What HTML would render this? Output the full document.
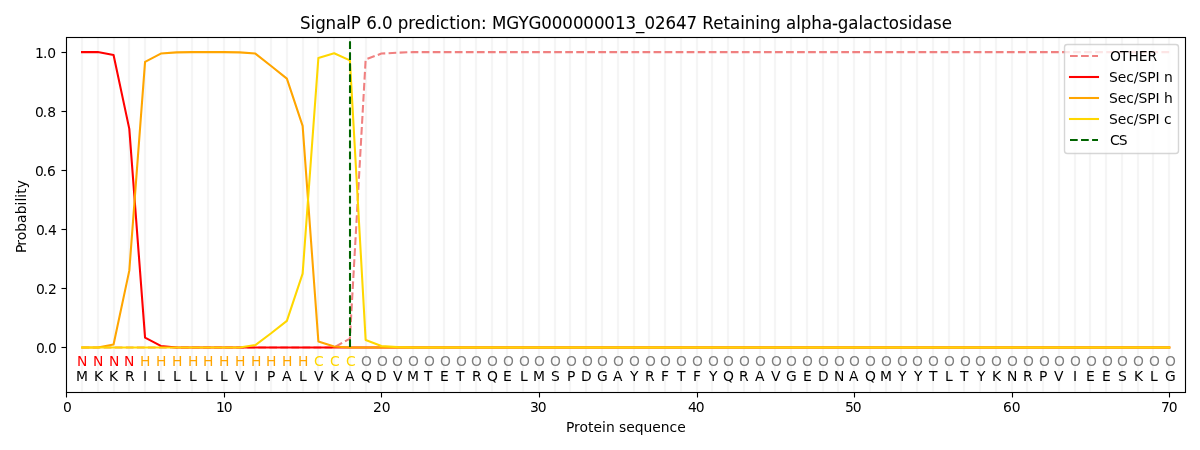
<!DOCTYPE html>
<html lang="en"><head><meta charset="utf-8"><title>SignalP 6.0 prediction</title>
<style>
html,body{margin:0;padding:0;background:#fff;}
body{width:1200px;height:450px;overflow:hidden;font-family:"DejaVu Sans","Liberation Sans",sans-serif;}
svg{display:block;}
</style></head><body>
<svg width="1200" height="450" viewBox="0 0 1200 450">
<defs><clipPath id="axclip"><rect x="66.278" y="37.333" width="1118.722" height="354.389"/></clipPath></defs>
<rect x="0" y="0" width="1200" height="450" fill="#ffffff"/>
<path d="M66.5 392.0V397.5M224.5 392.0V397.5M381.5 392.0V397.5M539.5 392.0V397.5M697.5 392.0V397.5M854.5 392.0V397.5M1012.5 392.0V397.5M1169.5 392.0V397.5M67.0 347.5H61.5M67.0 288.5H61.5M67.0 229.5H61.5M67.0 170.5H61.5M67.0 111.5H61.5M67.0 52.5H61.5" stroke="#000" stroke-width="1.111" fill="none"/>
<g font-family="'DejaVu Sans', sans-serif" font-size="13.889px" fill="#000">
<g>
<text transform="translate(0 412.30) scale(1 1.0)" x="62.96" y="0">0</text>
<text transform="translate(0 411.92) scale(1 1.0)" x="215.96 223.84" y="0">10</text>
<text transform="translate(0 411.92) scale(1 1.0)" x="372.96 381.71" y="0">20</text>
<text transform="translate(0 411.83) scale(1 1.0)" x="530.10 537.85" y="0">30</text>
<text transform="translate(0 411.68) scale(1 1.0)" x="688.03 695.78" y="0">40</text>
<text transform="translate(0 412.31) scale(1 1.0)" x="845.04 852.79" y="0">50</text>
<text transform="translate(0 412.47) scale(1 1.0)" x="1002.93 1011.81" y="0">60</text>
<text transform="translate(0 412.48) scale(1 1.0)" x="1160.97 1168.72" y="0">70</text>
<text transform="translate(0 432.22) scale(1 1.0)" x="565.96 574.09 579.59 588.09 593.59 602.09 605.96 614.71 619.09 626.21 634.71 643.59 652.34 660.84 669.59 677.21" y="0">Protein sequence</text>
<text transform="translate(25.62 217.03) rotate(-90) scale(1 1.0)" x="-35.94 -28.81 -23.31 -14.81 -5.94 2.69 11.56 15.44 19.31 23.19 28.69" y="0">Probability</text>
</g>
<g>
<text transform="translate(0 353.39) scale(1 1.0)" x="35.90 43.65 48.02" y="0">0.0</text>
<text transform="translate(0 294.05) scale(1 1.0)" x="35.98 43.73 48.11" y="0">0.2</text>
<text transform="translate(0 234.71) scale(1 1.0)" x="35.98 43.73 48.10" y="0">0.4</text>
<text transform="translate(0 176.41) scale(1 1.0)" x="34.90 42.65 47.02" y="0">0.6</text>
<text transform="translate(0 117.02) scale(1 1.0)" x="35.04 42.79 47.16" y="0">0.8</text>
<text transform="translate(0 57.73) scale(1 1.0)" x="35.06 42.94 47.31" y="0">1.0</text>
</g>
</g>
<g clip-path="url(#axclip)">
<path d="M82 37.33V391.72M98 37.33V391.72M114 37.33V391.72M129 37.33V391.72M145 37.33V391.72M161 37.33V391.72M177 37.33V391.72M192 37.33V391.72M208 37.33V391.72M224 37.33V391.72M240 37.33V391.72M255 37.33V391.72M271 37.33V391.72M287 37.33V391.72M303 37.33V391.72M318 37.33V391.72M334 37.33V391.72M350 37.33V391.72M366 37.33V391.72M381 37.33V391.72M397 37.33V391.72M413 37.33V391.72M429 37.33V391.72M444 37.33V391.72M460 37.33V391.72M476 37.33V391.72M492 37.33V391.72M507 37.33V391.72M523 37.33V391.72M539 37.33V391.72M555 37.33V391.72M570 37.33V391.72M586 37.33V391.72M602 37.33V391.72M618 37.33V391.72M634 37.33V391.72M649 37.33V391.72M665 37.33V391.72M681 37.33V391.72M697 37.33V391.72M712 37.33V391.72M728 37.33V391.72M744 37.33V391.72M760 37.33V391.72M775 37.33V391.72M791 37.33V391.72M807 37.33V391.72M823 37.33V391.72M838 37.33V391.72M854 37.33V391.72M870 37.33V391.72M886 37.33V391.72M901 37.33V391.72M917 37.33V391.72M933 37.33V391.72M949 37.33V391.72M964 37.33V391.72M980 37.33V391.72M996 37.33V391.72M1012 37.33V391.72M1027 37.33V391.72M1043 37.33V391.72M1059 37.33V391.72M1075 37.33V391.72M1090 37.33V391.72M1106 37.33V391.72M1122 37.33V391.72M1138 37.33V391.72M1153 37.33V391.72M1169 37.33V391.72" stroke="#f5f5f5" stroke-width="2.25" fill="none"/>
<polyline points="82.03,347.42 97.79,347.42 113.55,347.42 129.30,347.42 145.06,347.42 160.82,347.42 176.57,347.42 192.33,347.42 208.09,347.42 223.84,347.42 239.60,347.42 255.36,347.42 271.11,347.42 286.87,347.42 302.63,347.42 318.38,347.42 334.14,347.42 349.90,338.56 365.65,59.48 381.41,53.58 397.17,52.69 412.92,52.10 428.68,52.10 444.44,52.10 460.19,52.10 475.95,52.10 491.71,52.10 507.46,52.10 523.22,52.10 538.98,52.10 554.73,52.10 570.49,52.10 586.25,52.10 602.00,52.10 617.76,52.10 633.52,52.10 649.27,52.10 665.03,52.10 680.79,52.10 696.54,52.10 712.30,52.10 728.06,52.10 743.81,52.10 759.57,52.10 775.33,52.10 791.08,52.10 806.84,52.10 822.60,52.10 838.35,52.10 854.11,52.10 869.87,52.10 885.62,52.10 901.38,52.10 917.14,52.10 932.89,52.10 948.65,52.10 964.41,52.10 980.16,52.10 995.92,52.10 1011.68,52.10 1027.43,52.10 1043.19,52.10 1058.95,52.10 1074.70,52.10 1090.46,52.10 1106.22,52.10 1121.97,52.10 1137.73,52.10 1153.49,52.10 1169.24,52.10" fill="none" stroke="#f08080" stroke-width="2.083" stroke-linejoin="round" stroke-dasharray="7.708 3.333" stroke-dashoffset="0.40"/>
<polyline points="82.03,52.10 97.79,52.10 113.55,55.05 129.30,128.88 145.06,337.68 160.82,345.95 176.57,347.42 192.33,347.42 208.09,347.42 223.84,347.42 239.60,347.42 255.36,347.42 271.11,347.42 286.87,347.42 302.63,347.42 318.38,347.42 334.14,347.42 349.90,347.42 365.65,347.42 381.41,347.42 397.17,347.42 412.92,347.42 428.68,347.42 444.44,347.42 460.19,347.42 475.95,347.42 491.71,347.42 507.46,347.42 523.22,347.42 538.98,347.42 554.73,347.42 570.49,347.42 586.25,347.42 602.00,347.42 617.76,347.42 633.52,347.42 649.27,347.42 665.03,347.42 680.79,347.42 696.54,347.42 712.30,347.42 728.06,347.42 743.81,347.42 759.57,347.42 775.33,347.42 791.08,347.42 806.84,347.42 822.60,347.42 838.35,347.42 854.11,347.42 869.87,347.42 885.62,347.42 901.38,347.42 917.14,347.42 932.89,347.42 948.65,347.42 964.41,347.42 980.16,347.42 995.92,347.42 1011.68,347.42 1027.43,347.42 1043.19,347.42 1058.95,347.42 1074.70,347.42 1090.46,347.42 1106.22,347.42 1121.97,347.42 1137.73,347.42 1153.49,347.42 1169.24,347.42" fill="none" stroke="#ff0000" stroke-width="2.083" stroke-linejoin="round" stroke-linecap="square"/>
<polyline points="82.03,347.42 97.79,347.42 113.55,344.47 129.30,270.64 145.06,61.85 160.82,53.58 176.57,52.39 192.33,52.10 208.09,52.10 223.84,52.10 239.60,52.39 255.36,53.58 271.11,65.98 286.87,78.68 302.63,125.93 318.38,341.52 334.14,346.54 349.90,347.42 365.65,347.42 381.41,347.42 397.17,347.42 412.92,347.42 428.68,347.42 444.44,347.42 460.19,347.42 475.95,347.42 491.71,347.42 507.46,347.42 523.22,347.42 538.98,347.42 554.73,347.42 570.49,347.42 586.25,347.42 602.00,347.42 617.76,347.42 633.52,347.42 649.27,347.42 665.03,347.42 680.79,347.42 696.54,347.42 712.30,347.42 728.06,347.42 743.81,347.42 759.57,347.42 775.33,347.42 791.08,347.42 806.84,347.42 822.60,347.42 838.35,347.42 854.11,347.42 869.87,347.42 885.62,347.42 901.38,347.42 917.14,347.42 932.89,347.42 948.65,347.42 964.41,347.42 980.16,347.42 995.92,347.42 1011.68,347.42 1027.43,347.42 1043.19,347.42 1058.95,347.42 1074.70,347.42 1090.46,347.42 1106.22,347.42 1121.97,347.42 1137.73,347.42 1153.49,347.42 1169.24,347.42" fill="none" stroke="#ffa500" stroke-width="2.083" stroke-linejoin="round" stroke-linecap="square"/>
<polyline points="82.03,347.42 97.79,347.42 113.55,347.42 129.30,347.42 145.06,347.42 160.82,347.42 176.57,347.42 192.33,347.42 208.09,347.42 223.84,347.42 239.60,347.42 255.36,345.06 271.11,333.25 286.87,320.84 302.63,273.59 318.38,58.01 334.14,53.28 349.90,60.37 365.65,340.04 381.41,345.95 397.17,347.13 412.92,347.42 428.68,347.42 444.44,347.42 460.19,347.42 475.95,347.42 491.71,347.42 507.46,347.42 523.22,347.42 538.98,347.42 554.73,347.42 570.49,347.42 586.25,347.42 602.00,347.42 617.76,347.42 633.52,347.42 649.27,347.42 665.03,347.42 680.79,347.42 696.54,347.42 712.30,347.42 728.06,347.42 743.81,347.42 759.57,347.42 775.33,347.42 791.08,347.42 806.84,347.42 822.60,347.42 838.35,347.42 854.11,347.42 869.87,347.42 885.62,347.42 901.38,347.42 917.14,347.42 932.89,347.42 948.65,347.42 964.41,347.42 980.16,347.42 995.92,347.42 1011.68,347.42 1027.43,347.42 1043.19,347.42 1058.95,347.42 1074.70,347.42 1090.46,347.42 1106.22,347.42 1121.97,347.42 1137.73,347.42 1153.49,347.42 1169.24,347.42" fill="none" stroke="#ffd700" stroke-width="2.083" stroke-linejoin="round" stroke-linecap="square"/>
<path d="M350 347V37" fill="none" stroke="#006400" stroke-width="2.083" stroke-dasharray="7.708 3.333" stroke-dashoffset="0.00"/>
</g>
<path d="M66.0 37.5H1186.0M66.0 392.5H1186.0M61.5 347.5H66.5M61.5 288.5H66.5M61.5 229.5H66.5M61.5 170.5H66.5M61.5 111.5H66.5M61.5 52.5H66.5" stroke="#000" stroke-opacity="0.055" stroke-width="3" fill="none"/>
<path d="M66.5 393.06V36.94M1185.5 393.06V36.94M65.94 392.5H1186.06M65.94 37.5H1186.06" stroke="#000" stroke-width="1.111" fill="none"/>
<g font-family="'DejaVu Sans', sans-serif" font-size="13.889px" text-anchor="middle">
<text transform="translate(0 366.08) scale(1 0.97)" x="82.31" y="0" fill="#ff0000">N</text>
<text transform="translate(0 366.08) scale(1 0.97)" x="98.31" y="0" fill="#ff0000">N</text>
<text transform="translate(0 366.05) scale(1 0.97)" x="114.10" y="0" fill="#ff0000">N</text>
<text transform="translate(0 366.07) scale(1 0.97)" x="129.12" y="0" fill="#ff0000">N</text>
<text transform="translate(0 365.56) scale(1 0.97)" x="145.27" y="0" fill="#ffa500">H</text>
<text transform="translate(0 365.56) scale(1 0.97)" x="161.26" y="0" fill="#ffa500">H</text>
<text transform="translate(0 365.56) scale(1 0.97)" x="177.13" y="0" fill="#ffa500">H</text>
<text transform="translate(0 365.56) scale(1 0.97)" x="193.15" y="0" fill="#ffa500">H</text>
<text transform="translate(0 365.60) scale(1 0.97)" x="208.26" y="0" fill="#ffa500">H</text>
<text transform="translate(0 365.56) scale(1 0.97)" x="224.28" y="0" fill="#ffa500">H</text>
<text transform="translate(0 365.56) scale(1 0.97)" x="240.23" y="0" fill="#ffa500">H</text>
<text transform="translate(0 365.60) scale(1 0.97)" x="256.31" y="0" fill="#ffa500">H</text>
<text transform="translate(0 365.56) scale(1 0.97)" x="271.12" y="0" fill="#ffa500">H</text>
<text transform="translate(0 365.56) scale(1 0.97)" x="287.27" y="0" fill="#ffa500">H</text>
<text transform="translate(0 365.56) scale(1 0.97)" x="303.26" y="0" fill="#ffa500">H</text>
<text transform="translate(0 365.56) scale(1 0.97)" x="318.81" y="0" fill="#ffd700">C</text>
<text transform="translate(0 365.55) scale(1 0.97)" x="334.76" y="0" fill="#ffd700">C</text>
<text transform="translate(0 365.56) scale(1 0.97)" x="350.80" y="0" fill="#ffd700">C</text>
<text transform="translate(0 365.91) scale(1 0.97)" x="366.50" y="0" fill="#808080">O</text>
<text transform="translate(0 365.84) scale(1 0.97)" x="382.54" y="0" fill="#808080">O</text>
<text transform="translate(0 365.94) scale(1 0.97)" x="397.51" y="0" fill="#808080">O</text>
<text transform="translate(0 365.94) scale(1 0.97)" x="413.37" y="0" fill="#808080">O</text>
<text transform="translate(0 365.94) scale(1 0.97)" x="429.37" y="0" fill="#808080">O</text>
<text transform="translate(0 365.84) scale(1 0.97)" x="445.50" y="0" fill="#808080">O</text>
<text transform="translate(0 365.84) scale(1 0.97)" x="461.53" y="0" fill="#808080">O</text>
<text transform="translate(0 365.94) scale(1 0.97)" x="476.40" y="0" fill="#808080">O</text>
<text transform="translate(0 365.94) scale(1 0.97)" x="492.40" y="0" fill="#808080">O</text>
<text transform="translate(0 365.84) scale(1 0.97)" x="508.52" y="0" fill="#808080">O</text>
<text transform="translate(0 365.84) scale(1 0.97)" x="524.36" y="0" fill="#808080">O</text>
<text transform="translate(0 365.94) scale(1 0.97)" x="539.43" y="0" fill="#808080">O</text>
<text transform="translate(0 365.94) scale(1 0.97)" x="555.42" y="0" fill="#808080">O</text>
<text transform="translate(0 365.84) scale(1 0.97)" x="571.51" y="0" fill="#808080">O</text>
<text transform="translate(0 365.84) scale(1 0.97)" x="587.39" y="0" fill="#808080">O</text>
<text transform="translate(0 365.94) scale(1 0.97)" x="602.45" y="0" fill="#808080">O</text>
<text transform="translate(0 365.94) scale(1 0.97)" x="618.45" y="0" fill="#808080">O</text>
<text transform="translate(0 365.94) scale(1 0.97)" x="634.38" y="0" fill="#808080">O</text>
<text transform="translate(0 365.84) scale(1 0.97)" x="650.41" y="0" fill="#808080">O</text>
<text transform="translate(0 365.94) scale(1 0.97)" x="665.48" y="0" fill="#808080">O</text>
<text transform="translate(0 365.94) scale(1 0.97)" x="681.48" y="0" fill="#808080">O</text>
<text transform="translate(0 365.94) scale(1 0.97)" x="697.40" y="0" fill="#808080">O</text>
<text transform="translate(0 365.84) scale(1 0.97)" x="713.44" y="0" fill="#808080">O</text>
<text transform="translate(0 365.91) scale(1 0.97)" x="728.50" y="0" fill="#808080">O</text>
<text transform="translate(0 365.94) scale(1 0.97)" x="744.50" y="0" fill="#808080">O</text>
<text transform="translate(0 365.94) scale(1 0.97)" x="760.43" y="0" fill="#808080">O</text>
<text transform="translate(0 365.84) scale(1 0.97)" x="776.47" y="0" fill="#808080">O</text>
<text transform="translate(0 365.94) scale(1 0.97)" x="791.36" y="0" fill="#808080">O</text>
<text transform="translate(0 365.94) scale(1 0.97)" x="807.49" y="0" fill="#808080">O</text>
<text transform="translate(0 365.94) scale(1 0.97)" x="823.49" y="0" fill="#808080">O</text>
<text transform="translate(0 365.84) scale(1 0.97)" x="839.48" y="0" fill="#808080">O</text>
<text transform="translate(0 365.94) scale(1 0.97)" x="854.52" y="0" fill="#808080">O</text>
<text transform="translate(0 365.94) scale(1 0.97)" x="870.52" y="0" fill="#808080">O</text>
<text transform="translate(0 365.94) scale(1 0.97)" x="886.51" y="0" fill="#808080">O</text>
<text transform="translate(0 365.84) scale(1 0.97)" x="902.51" y="0" fill="#808080">O</text>
<text transform="translate(0 365.94) scale(1 0.97)" x="917.55" y="0" fill="#808080">O</text>
<text transform="translate(0 365.89) scale(1 0.97)" x="933.50" y="0" fill="#808080">O</text>
<text transform="translate(0 365.91) scale(1 0.97)" x="949.50" y="0" fill="#808080">O</text>
<text transform="translate(0 365.84) scale(1 0.97)" x="965.54" y="0" fill="#808080">O</text>
<text transform="translate(0 365.94) scale(1 0.97)" x="980.50" y="0" fill="#808080">O</text>
<text transform="translate(0 365.94) scale(1 0.97)" x="996.37" y="0" fill="#808080">O</text>
<text transform="translate(0 365.94) scale(1 0.97)" x="1012.37" y="0" fill="#808080">O</text>
<text transform="translate(0 365.84) scale(1 0.97)" x="1028.49" y="0" fill="#808080">O</text>
<text transform="translate(0 365.84) scale(1 0.97)" x="1044.53" y="0" fill="#808080">O</text>
<text transform="translate(0 365.94) scale(1 0.97)" x="1059.40" y="0" fill="#808080">O</text>
<text transform="translate(0 365.94) scale(1 0.97)" x="1075.39" y="0" fill="#808080">O</text>
<text transform="translate(0 365.84) scale(1 0.97)" x="1091.52" y="0" fill="#808080">O</text>
<text transform="translate(0 365.84) scale(1 0.97)" x="1107.36" y="0" fill="#808080">O</text>
<text transform="translate(0 365.94) scale(1 0.97)" x="1122.42" y="0" fill="#808080">O</text>
<text transform="translate(0 365.94) scale(1 0.97)" x="1138.42" y="0" fill="#808080">O</text>
<text transform="translate(0 365.80) scale(1 0.97)" x="1154.51" y="0" fill="#808080">O</text>
<text transform="translate(0 365.84) scale(1 0.97)" x="1170.38" y="0" fill="#808080">O</text>
<text transform="translate(0 380.94) scale(1 0.98)" x="82.11" y="0" fill="#000">M</text>
<text transform="translate(0 381.07) scale(1 0.98)" x="98.61" y="0" fill="#000">K</text>
<text transform="translate(0 381.07) scale(1 0.98)" x="113.55" y="0" fill="#000">K</text>
<text transform="translate(0 380.56) scale(1 0.98)" x="129.86" y="0" fill="#000">R</text>
<text transform="translate(0 380.86) scale(1 0.98)" x="144.98" y="0" fill="#000">I</text>
<text transform="translate(0 380.64) scale(1 0.98)" x="160.90" y="0" fill="#000">L</text>
<text transform="translate(0 380.64) scale(1 0.98)" x="176.85" y="0" fill="#000">L</text>
<text transform="translate(0 380.68) scale(1 0.98)" x="192.96" y="0" fill="#000">L</text>
<text transform="translate(0 380.64) scale(1 0.98)" x="208.77" y="0" fill="#000">L</text>
<text transform="translate(0 380.64) scale(1 0.98)" x="223.97" y="0" fill="#000">L</text>
<text transform="translate(0 380.94) scale(1 0.98)" x="239.84" y="0" fill="#000">V</text>
<text transform="translate(0 380.86) scale(1 0.98)" x="256.10" y="0" fill="#000">I</text>
<text transform="translate(0 380.73) scale(1 0.98)" x="271.27" y="0" fill="#000">P</text>
<text transform="translate(0 380.98) scale(1 0.98)" x="286.87" y="0" fill="#000">A</text>
<text transform="translate(0 380.64) scale(1 0.98)" x="302.96" y="0" fill="#000">L</text>
<text transform="translate(0 380.88) scale(1 0.98)" x="318.86" y="0" fill="#000">V</text>
<text transform="translate(0 381.03) scale(1 0.98)" x="334.54" y="0" fill="#000">K</text>
<text transform="translate(0 380.99) scale(1 0.98)" x="349.65" y="0" fill="#000">A</text>
<text transform="translate(0 380.56) scale(1 0.98)" x="366.42" y="0" fill="#000">Q</text>
<text transform="translate(0 380.56) scale(1 0.98)" x="381.30" y="0" fill="#000">D</text>
<text transform="translate(0 380.86) scale(1 0.98)" x="397.66" y="0" fill="#000">V</text>
<text transform="translate(0 380.94) scale(1 0.98)" x="413.00" y="0" fill="#000">M</text>
<text transform="translate(0 380.69) scale(1 0.98)" x="428.21" y="0" fill="#000">T</text>
<text transform="translate(0 380.72) scale(1 0.98)" x="444.43" y="0" fill="#000">E</text>
<text transform="translate(0 380.58) scale(1 0.98)" x="460.27" y="0" fill="#000">T</text>
<text transform="translate(0 380.57) scale(1 0.98)" x="476.95" y="0" fill="#000">R</text>
<text transform="translate(0 380.56) scale(1 0.98)" x="492.40" y="0" fill="#000">Q</text>
<text transform="translate(0 380.72) scale(1 0.98)" x="507.29" y="0" fill="#000">E</text>
<text transform="translate(0 380.64) scale(1 0.98)" x="523.90" y="0" fill="#000">L</text>
<text transform="translate(0 380.94) scale(1 0.98)" x="539.06" y="0" fill="#000">M</text>
<text transform="translate(0 380.94) scale(1 0.98)" x="555.30" y="0" fill="#000">S</text>
<text transform="translate(0 380.71) scale(1 0.98)" x="571.23" y="0" fill="#000">P</text>
<text transform="translate(0 380.56) scale(1 0.98)" x="586.33" y="0" fill="#000">D</text>
<text transform="translate(0 380.72) scale(1 0.98)" x="602.44" y="0" fill="#000">G</text>
<text transform="translate(0 380.98) scale(1 0.98)" x="617.76" y="0" fill="#000">A</text>
<text transform="translate(0 381.07) scale(1 0.98)" x="634.22" y="0" fill="#000">Y</text>
<text transform="translate(0 380.56) scale(1 0.98)" x="649.83" y="0" fill="#000">R</text>
<text transform="translate(0 380.54) scale(1 0.98)" x="664.97" y="0" fill="#000">F</text>
<text transform="translate(0 380.58) scale(1 0.98)" x="681.31" y="0" fill="#000">T</text>
<text transform="translate(0 380.52) scale(1 0.98)" x="696.97" y="0" fill="#000">F</text>
<text transform="translate(0 381.05) scale(1 0.98)" x="713.14" y="0" fill="#000">Y</text>
<text transform="translate(0 380.55) scale(1 0.98)" x="728.38" y="0" fill="#000">Q</text>
<text transform="translate(0 380.62) scale(1 0.98)" x="743.87" y="0" fill="#000">R</text>
<text transform="translate(0 380.98) scale(1 0.98)" x="759.82" y="0" fill="#000">A</text>
<text transform="translate(0 380.86) scale(1 0.98)" x="775.82" y="0" fill="#000">V</text>
<text transform="translate(0 380.80) scale(1 0.98)" x="791.49" y="0" fill="#000">G</text>
<text transform="translate(0 380.71) scale(1 0.98)" x="807.42" y="0" fill="#000">E</text>
<text transform="translate(0 380.55) scale(1 0.98)" x="823.30" y="0" fill="#000">D</text>
<text transform="translate(0 380.90) scale(1 0.98)" x="839.23" y="0" fill="#000">N</text>
<text transform="translate(0 380.99) scale(1 0.98)" x="853.86" y="0" fill="#000">A</text>
<text transform="translate(0 380.57) scale(1 0.98)" x="870.43" y="0" fill="#000">Q</text>
<text transform="translate(0 380.96) scale(1 0.98)" x="886.08" y="0" fill="#000">M</text>
<text transform="translate(0 381.07) scale(1 0.98)" x="902.24" y="0" fill="#000">Y</text>
<text transform="translate(0 381.09) scale(1 0.98)" x="918.22" y="0" fill="#000">Y</text>
<text transform="translate(0 380.59) scale(1 0.98)" x="933.19" y="0" fill="#000">T</text>
<text transform="translate(0 380.64) scale(1 0.98)" x="948.98" y="0" fill="#000">L</text>
<text transform="translate(0 380.75) scale(1 0.98)" x="964.23" y="0" fill="#000">T</text>
<text transform="translate(0 381.09) scale(1 0.98)" x="981.14" y="0" fill="#000">Y</text>
<text transform="translate(0 381.00) scale(1 0.98)" x="996.48" y="0" fill="#000">K</text>
<text transform="translate(0 380.91) scale(1 0.98)" x="1012.24" y="0" fill="#000">N</text>
<text transform="translate(0 380.56) scale(1 0.98)" x="1027.94" y="0" fill="#000">R</text>
<text transform="translate(0 380.71) scale(1 0.98)" x="1043.15" y="0" fill="#000">P</text>
<text transform="translate(0 380.91) scale(1 0.98)" x="1058.69" y="0" fill="#000">V</text>
<text transform="translate(0 380.86) scale(1 0.98)" x="1074.96" y="0" fill="#000">I</text>
<text transform="translate(0 380.72) scale(1 0.98)" x="1090.29" y="0" fill="#000">E</text>
<text transform="translate(0 380.72) scale(1 0.98)" x="1106.43" y="0" fill="#000">E</text>
<text transform="translate(0 380.94) scale(1 0.98)" x="1122.31" y="0" fill="#000">S</text>
<text transform="translate(0 381.07) scale(1 0.98)" x="1138.59" y="0" fill="#000">K</text>
<text transform="translate(0 380.68) scale(1 0.98)" x="1153.87" y="0" fill="#000">L</text>
<text transform="translate(0 380.80) scale(1 0.98)" x="1170.32" y="0" fill="#000">G</text>
</g>
<text transform="translate(0 29.16) scale(1 1.06)" x="300.01 310.51 315.13 325.63 336.13 346.26 350.88 361.01 366.26 376.76 382.01 392.51 397.76 408.26 414.76 425.01 435.51 440.13 449.26 455.76 460.38 470.51 481.01 486.76 492.01 506.38 518.38 528.51 541.38 551.88 562.38 572.88 583.38 593.88 604.38 614.88 625.51 636.13 644.51 655.01 665.63 676.13 686.63 697.13 702.38 713.26 723.51 730.01 740.13 744.76 755.26 759.88 770.38 780.88 786.13 796.26 800.88 811.38 821.88 832.01 837.88 848.38 858.51 863.13 873.26 882.38 888.88 899.01 907.76 912.38 922.88 933.01 941.76" y="0" stroke="#000" stroke-width="0.05" font-family="'DejaVu Sans', sans-serif" font-size="16.667px" fill="#000">SignalP 6.0 prediction: MGYG000000013_02647 Retaining alpha-galactosidase</text>
<rect x="1064.50" y="44.50" width="114.00" height="109.00" rx="2.78" ry="2.78" fill="#ffffff" stroke="#cccccc" stroke-width="1.389" opacity="0.8"/>
<g font-family="'DejaVu Sans', sans-serif" font-size="13.889px" fill="#000">
<path d="M1070.00 56H1098.00" stroke="#f08080" stroke-width="2.083" stroke-dasharray="7.708 3.333" stroke-dashoffset="0.00" fill="none"/>
<text x="1110.00 1119.88 1128.38 1138.75 1147.50" y="60.90">OTHER</text>
<path d="M1070.00 77H1098.00" stroke="#ff0000" stroke-width="2.083" stroke-linecap="square" fill="none"/>
<text x="1108.95 1117.70 1126.20 1133.83 1138.45 1147.20 1155.58 1159.58 1163.95" y="82.06">Sec/SPI n</text>
<path d="M1070.00 98H1098.00" stroke="#ffa500" stroke-width="2.083" stroke-linecap="square" fill="none"/>
<text x="1109.00 1117.75 1126.25 1133.88 1138.50 1147.25 1155.62 1159.62 1164.00" y="103.06">Sec/SPI h</text>
<path d="M1070.00 119H1098.00" stroke="#ffd700" stroke-width="2.083" stroke-linecap="square" fill="none"/>
<text x="1108.89 1117.64 1126.14 1133.76 1138.39 1147.14 1155.51 1159.51 1163.89" y="123.98">Sec/SPI c</text>
<path d="M1070.00 140H1098.00" stroke="#006400" stroke-width="2.083" stroke-dasharray="7.708 3.333" stroke-dashoffset="0.00" fill="none"/>
<text x="1109.88 1118.63" y="145.06">CS</text>
</g>
</svg>
</body></html>
